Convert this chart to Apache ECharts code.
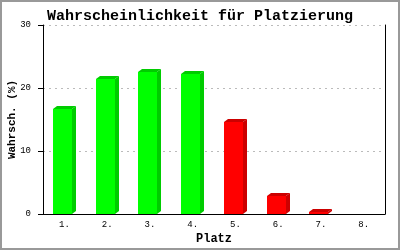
<!DOCTYPE html>
<html><head><meta charset="utf-8">
<script src="https://cdn.jsdelivr.net/npm/echarts@6/dist/echarts.min.js"></script>
<style>html,body{margin:0;padding:0;background:#fff}#c{width:400px;height:250px}</style>
</head><body><div id="c"></div>
<script>
const categories = ['1.', '2.', '3.', '4.', '5.', '6.', '7.', '8.'];
const probabilities = [16.7, 21.5, 22.5, 22.3, 14.6, 2.9, 0.25, 0];
const yTicks = [0, 10, 20, 30];
const titleText = 'Wahrscheinlichkeit für Platzierung';
const xName = 'Platz';
const yName = 'Wahrsch. (%)';

const FRONT = ['#00ff00', '#00ff00', '#00ff00', '#00ff00', '#ff0000', '#ff0000', '#ff0000', '#ff0000'];
const SIDE  = ['#00cc00', '#00cc00', '#00cc00', '#00cc00', '#cc0000', '#cc0000', '#cc0000', '#cc0000'];
const MONO = '"Liberation Mono", "DejaVu Sans Mono", monospace';

const chart = echarts.init(document.getElementById('c'), null, {renderer: 'canvas'});
const DX = 4, DY = 3;
function renderItem(params, api) {
  const i = api.value(0), v = api.value(1);
  if (!(v > 0)) return null;
  const top = api.coord([i, v]);
  const bot = api.coord([i, 0]);
  const w = Math.round(api.size([1, 0])[0] * 0.45);
  const x0 = Math.round(top[0] - (w + DX) / 2);
  const x1 = x0 + w;
  const yT = Math.round(top[1]);
  const yB = Math.round(bot[1]);
  return {
    type: 'group',
    children: [
      {type: 'polygon', shape: {points: [[x1, yT], [x1 + DX, yT - DY], [x1 + DX, yB - DY], [x1, yB]]},
       style: {fill: SIDE[i]}},
      {type: 'polygon', shape: {points: [[x0, yT], [x0 + DX, yT - DY], [x1 + DX, yT - DY], [x1, yT]]},
       style: {fill: SIDE[i]}},
      {type: 'rect', shape: {x: x0, y: yT, width: w, height: yB - yT}, style: {fill: FRONT[i]}}
    ]
  };
}

chart.setOption({
  animation: false,
  backgroundColor: '#fff',
  title: {
    text: titleText, left: 'center', top: 4,
    textStyle: {fontFamily: MONO, fontWeight: 'bold', fontSize: 15, color: '#000'}
  },
  graphic: [{type: 'rect', shape: {x: 1, y: 1, width: 398, height: 248}, style: {fill: 'none', stroke: '#999', lineWidth: 2}, z: 100}],
  grid: {left: 43, right: 15, top: 25, bottom: 36, containLabel: false, outerBoundsMode: 'none'},
  xAxis: {
    type: 'category', data: categories,
    name: xName, nameLocation: 'middle', nameGap: 19, nameMoveOverlap: false,
    nameTextStyle: {fontFamily: MONO, fontWeight: 'bold', fontSize: 12, color: '#000'},
    axisLine: {lineStyle: {color: '#000', width: 1}},
    axisTick: {show: false},
    axisLabel: {fontFamily: MONO, fontSize: 9, color: '#000', margin: 6},
    splitLine: {show: false}
  },
  yAxis: [{
    type: 'value', min: yTicks[0], max: yTicks[yTicks.length - 1], interval: 10,
    name: yName, nameLocation: 'middle', nameGap: 25, nameRotate: 90, nameMoveOverlap: false,
    nameTextStyle: {fontFamily: MONO, fontWeight: 'bold', fontSize: 11, color: '#000'},
    axisLine: {show: true, lineStyle: {color: '#000', width: 1}},
    axisTick: {show: true, length: 5, lineStyle: {color: '#000'}},
    axisLabel: {fontFamily: MONO, fontSize: 9, color: '#000', margin: 12},
    splitLine: {show: true, lineStyle: {color: '#bbb', type: [2, 4], width: 1}}
  }, {
    type: 'value', min: 0, max: 30, interval: 10, position: 'right',
    axisLine: {show: true, lineStyle: {color: '#000', width: 1}},
    axisTick: {show: false}, axisLabel: {show: false}, splitLine: {show: false}
  }],
  series: [{
    type: 'custom', renderItem: renderItem,
    encode: {x: 0, y: 1},
    data: probabilities.map((v, i) => [i, v])
  }]
});
</script></body></html>
